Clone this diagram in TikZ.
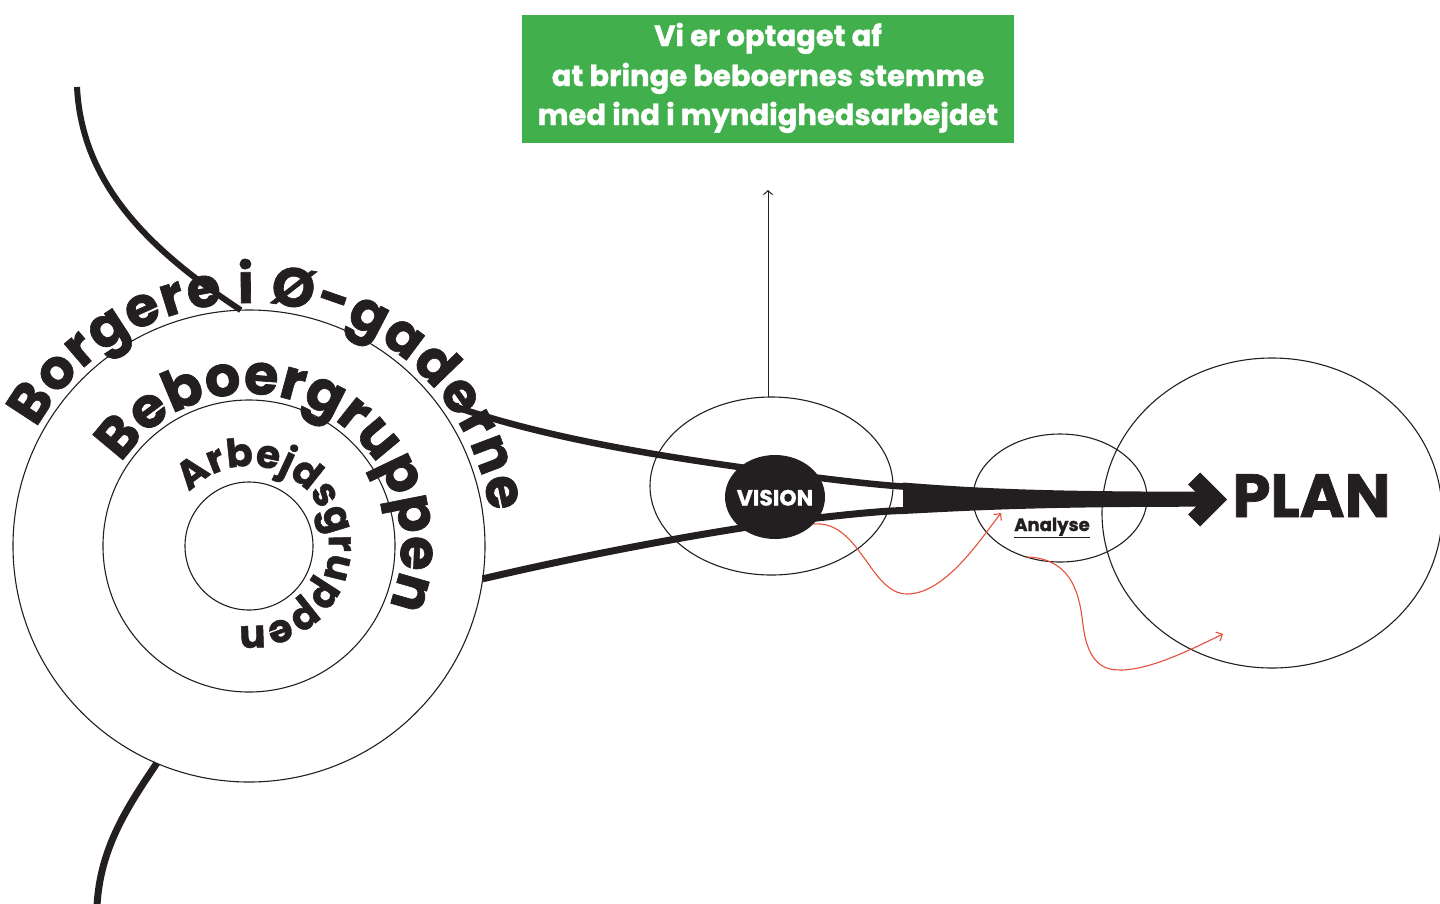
\documentclass[tikz,border=0pt]{standalone}
\usepackage{fontspec}
\setmainfont{Poppins}[BoldFeatures={FakeBold=1.2}]
\usetikzlibrary{decorations.text, shapes.geometric, arrows.meta}
\definecolor{ink}{HTML}{231F20}
\definecolor{boxgreen}{HTML}{41AF4B}
\definecolor{redline}{HTML}{E4503A}
\tikzset{
  ring/.style={draw=ink, line width=1.1, inner sep=0pt, outer sep=0pt},
  band/.style={draw=ink, line width=6.5},
  redarrow/.style={draw=redline, line width=1.1, -{Straight Barb[length=5pt,width=10pt]}},
  arctext/.style={decorate, decoration={text along path, text align={fit to path}, text color=ink, text={#1}}},
  boxline/.style={anchor=base, text=white, font=\fontsize{29}{34}\selectfont\bfseries},
}
\begin{document}
\begin{tikzpicture}[x=1pt,y=-1pt]
\useasboundingbox (0,0) rectangle (1440,903);
\clip (0,0) rectangle (1440,903);

% concentric circles
\node[ring, circle, minimum size=472] (outer) at (249,546) {};
\node[ring, circle, minimum size=292] (middle) at (249,546) {};
\node[ring, circle, minimum size=128] (inner) at (249,546) {};

% other ellipses
\node[ring, ellipse, minimum width=243, minimum height=178] (visionE) at (771.5,486) {};
\node[ring, ellipse, minimum width=174, minimum height=128] (analyseE) at (1060,498) {};
\node[ring, ellipse, minimum width=340, minimum height=310] (planE) at (1272,513) {};

% top and bottom curves
\coordinate (topend) at (77,87);
\coordinate (botend) at (97,906);
\draw[band, line width=6] (topend) .. controls (82,185) and (150,250) .. (outer.92);
\draw[band, line width=7] (outer.247) .. controls (125,810) and (100,850) .. (botend);

% connectors to VISION
\coordinate (upstart) at (459,408);
\coordinate (notchTop) at (903,486.5);
\coordinate (notchBot) at (903,510.5);
\draw[band] (upstart) .. controls (560,442) and (680,459) .. (775,472) .. controls (840,481) and (880,485) .. (notchTop);
\draw[band, line width=7] (outer.-8) .. controls (580,556) and (690,535) .. (775,523) .. controls (840,515) and (880,511) .. (notchBot);

% thick arrow to PLAN
\fill[ink] (903,482.5) .. controls (980,488.5) and (1040,491.7) .. (1210,491.7) -- (1210,506.7) .. controls (1040,506.7) and (980,510) .. (903,514) -- cycle;
\fill[ink] (1200,472.5) -- (1227,499.5) -- (1200,526.5) -- (1188,514.5) -- (1203,499.5) -- (1188,484.5) -- cycle;

% vision blob
\node[ellipse, fill=ink, minimum width=100, minimum height=84, inner sep=0pt] (vision) at (775,497) {};
\node[anchor=base, text=white, font=\fontsize{22}{24}\selectfont\bfseries] (visiontext) at (775,505.5) {VISION};

% vertical arrow
\coordinate (vtop) at (768,190);
\draw[draw=ink, line width=1, -{Straight Barb[length=4pt,width=9pt]}] (visionE.north -| vtop) -- (vtop);

% green box
\node[fill=boxgreen, minimum width=492, minimum height=128, inner sep=0pt] (box) at (768,79) {};
\node[boxline] (l1) at (768,46) {Vi er optaget af};
\node[boxline] (l2) at (768,86) {at bringe beboernes stemme};
\node[boxline] (l3) at (768,125) {med ind i myndighedsarbejdet};

% labels
\node[anchor=base, text=ink, font=\fontsize{18}{20}\selectfont\bfseries] (analyse) at (1052,531) {\underline{Analyse}};
\node[anchor=base, text=ink, font=\fontsize{61}{64}\selectfont\bfseries] (plan) at (1311.5,517) {PLAN};

% red arrows
\coordinate (r1end) at (1001,513);
\coordinate (r2end) at (1223,634);
\draw[redarrow] (vision.-35) .. controls (860,520) and (870,594) .. (907,594) .. controls (945,594) and (980,540) .. (r1end);
\draw[redarrow] (analyseE.-120) .. controls (1075,558) and (1080,600) .. (1083,625) .. controls (1088,665) and (1105,670) .. (1120,670) .. controls (1150,670) and (1190,650) .. (r2end);

% curved texts
\path[arctext={|\fontsize{55}{62}\selectfont\bfseries|Borgere i Ø-gaderne}] (249,546) ++(-151:243) arc[start angle=-151, end angle=-8, radius=243];
\path[arctext={|\fontsize{56}{62}\selectfont\bfseries|Beboergruppen}] (249,546) ++(-147:152) arc[start angle=-147, end angle=17, radius=152];
\path[arctext={|\fontsize{39}{44}\selectfont\bfseries|Arbejdsgruppen}] (249,546) ++(-138:80) arc[start angle=-138, end angle=95, radius=80];
\end{tikzpicture}
\end{document}
